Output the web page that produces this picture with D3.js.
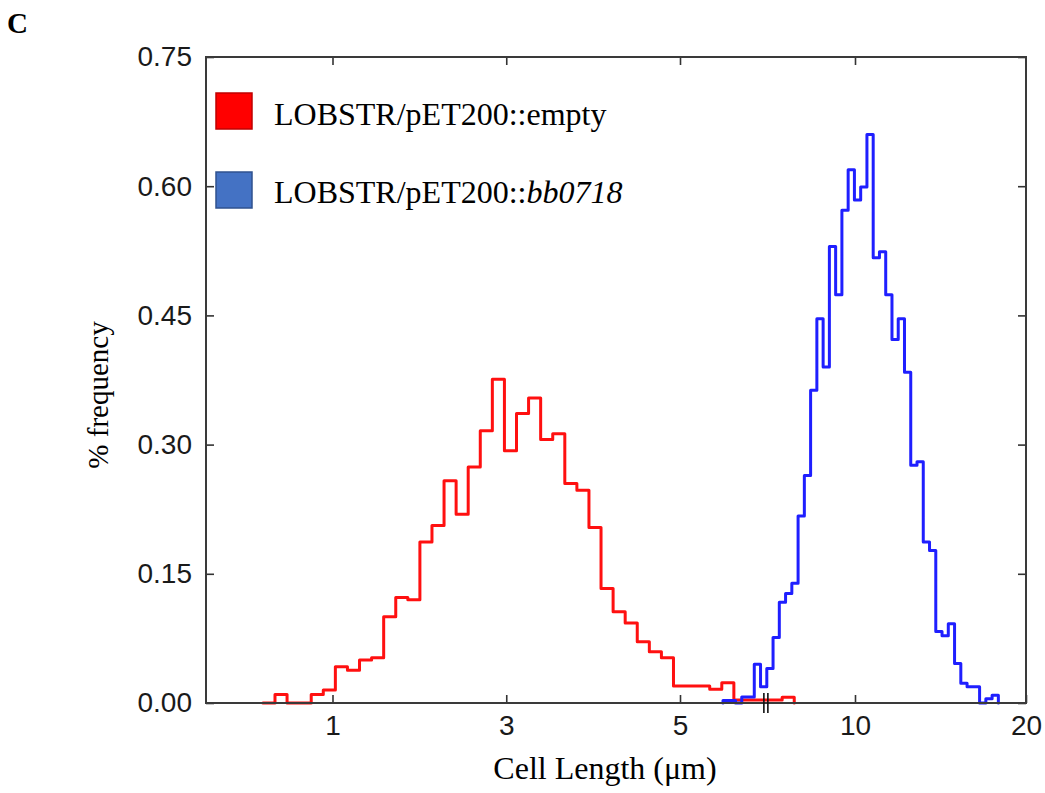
<!DOCTYPE html>
<html>
<head>
<meta charset="utf-8">
<script src="https://cdn.jsdelivr.net/npm/d3@7"></script>
<style>
  body { margin: 0; background: #fff; }
  svg { display: block; }
</style>
</head>
<body>
<div id="chart-area"></div>
<script>
// histogram data (% frequency per bin)
var redLabel = 'LOBSTR/pET200::empty';
var blueLabel = 'LOBSTR/pET200::';
var blueLabelItalic = 'bb0718';

// red: short-axis units (left segment), bins start at redStart, width redWidth
var redStart = 0.199, redWidth = 0.139;
var redFreq = [0, 0.010, 0, 0, 0.010, 0.015, 0.042, 0.038, 0.050, 0.0525,
  0.100, 0.1225, 0.120, 0.187, 0.206, 0.258, 0.219, 0.274, 0.316, 0.376,
  0.293, 0.336, 0.354, 0.306, 0.3125, 0.2547, 0.247, 0.2037, 0.133, 0.106,
  0.093, 0.071, 0.0595, 0.0525, 0.0197, 0.0197, 0.0197, 0.016, 0.0235, 0.0035,
  0.0035, 0.0035, 0.0035, 0.0066];

// blue: long-axis units (right segment)
var blueStart = 2.28, blueWidth = 0.366;
var blueFreq = [0.003, 0.003, 0, 0.007, 0.007, 0.045, 0.019, 0.040, 0.076, 0.117,
  0.127, 0.139, 0.217, 0.264, 0.363, 0.446, 0.390, 0.530, 0.474, 0.572,
  0.619, 0.584, 0.599, 0.660, 0.517, 0.524, 0.474, 0.422, 0.446, 0.384,
  0.276, 0.280, 0.187, 0.177, 0.083, 0.078, 0.092, 0.046, 0.023, 0.019,
  0.019, 0, 0.005, 0.009];

var yTicks = [0, 0.15, 0.30, 0.45, 0.60, 0.75];
var xTicksLeft = [1, 3, 5];
var xTicksRight = [10, 20];
var axisBreak = 6;

var W = 1045, H = 793;
var margin = { left: 206, right: 1026, top: 57, bottom: 703 };

var svg = d3.select('#chart-area').append('svg')
    .attr('width', W)
    .attr('height', H);

// scales
var y = d3.scaleLinear().domain([0, 0.75]).range([margin.bottom, margin.top]);
var xL = d3.scaleLinear().domain([1, 5]).range([332.5, 680]);
var xR = d3.scaleLinear().domain([10, 20]).range([855, 1026]);

// step line builder
function stepPoints(start, width, freq) {
  var pts = [[start, 0]];
  freq.forEach(function(v, i) { pts.push([start + i * width, v]); });
  pts.push([start + freq.length * width, freq[freq.length - 1]]);
  pts.push([start + freq.length * width, 0]);
  return pts;
}

function drawStep(xs, pts, color) {
  var line = d3.line()
    .x(function(d) { return xs(d[0]); })
    .y(function(d) { return y(d[1]); })
    .curve(d3.curveStepAfter);
  svg.append('path')
    .datum(pts)
    .attr('d', line)
    .attr('fill', 'none')
    .attr('stroke', color)
    .attr('stroke-width', 3)
    .attr('stroke-linejoin', 'round')
    .attr('stroke-linecap', 'round');
}

var tickFont = '"Liberation Sans", Arial, sans-serif';
var serif = '"Liberation Serif", "Times New Roman", serif';

function styleAxis(g) {
  g.select('.domain').remove();
  g.selectAll('.tick line').attr('stroke', '#333').attr('stroke-width', 1.6);
  g.selectAll('.tick text')
    .attr('fill', '#1a1a1a')
    .style('font-family', tickFont)
    .style('font-size', '28px');
}

// left axis
svg.append('g')
  .attr('transform', 'translate(' + margin.left + ',0)')
  .call(d3.axisLeft(y).tickValues(yTicks).tickFormat(d3.format('.2f'))
    .tickSizeInner(-8).tickSizeOuter(0).tickPadding(14))
  .call(styleAxis);

// right ticks
svg.append('g')
  .attr('transform', 'translate(' + margin.right + ',0)')
  .call(d3.axisRight(y).tickValues(yTicks).tickFormat('')
    .tickSizeInner(-8).tickSizeOuter(0))
  .call(styleAxis);

// bottom axes (two segments)
svg.append('g')
  .attr('transform', 'translate(0,' + margin.bottom + ')')
  .call(d3.axisBottom(xL).tickValues(xTicksLeft).tickFormat(d3.format('d'))
    .tickSizeInner(-8).tickSizeOuter(0).tickPadding(12))
  .call(styleAxis);
svg.append('g')
  .attr('transform', 'translate(0,' + margin.bottom + ')')
  .call(d3.axisBottom(xR).tickValues(xTicksRight).tickFormat(d3.format('d'))
    .tickSizeInner(-8).tickSizeOuter(0).tickPadding(12))
  .call(styleAxis);

// top ticks
svg.append('g')
  .attr('transform', 'translate(0,' + margin.top + ')')
  .call(d3.axisTop(xL).tickValues(xTicksLeft).tickFormat('')
    .tickSizeInner(-8).tickSizeOuter(0))
  .call(styleAxis);
svg.append('g')
  .attr('transform', 'translate(0,' + margin.top + ')')
  .call(d3.axisTop(xR).tickValues([10]).tickFormat('')
    .tickSizeInner(-8).tickSizeOuter(0))
  .call(styleAxis);

// data
drawStep(xL, stepPoints(redStart, redWidth, redFreq), '#ff1010');
drawStep(xR, stepPoints(blueStart, blueWidth, blueFreq), '#1f1fff');

// frame
svg.append('rect')
  .attr('x', margin.left).attr('y', margin.top)
  .attr('width', margin.right - margin.left).attr('height', margin.bottom - margin.top)
  .attr('fill', 'none')
  .attr('stroke', '#3a3a3a')
  .attr('stroke-width', 2);

// axis break marker
[-2, 2].forEach(function(o) {
  svg.append('line')
    .attr('x1', xL(axisBreak) + o - 1).attr('x2', xL(axisBreak) + o - 1)
    .attr('y1', margin.bottom - 10).attr('y2', margin.bottom + 10)
    .attr('stroke', '#111').attr('stroke-width', 1.6);
});

// legend
var legend = [
  { fill: '#ff0000', stroke: '#c00000', y: 93 },
  { fill: '#4472c4', stroke: '#2f528f', y: 172 }
];
legend.forEach(function(d) {
  svg.append('rect')
    .attr('x', 216).attr('y', d.y)
    .attr('width', 36).attr('height', 36)
    .attr('fill', d.fill)
    .attr('stroke', d.stroke)
    .attr('stroke-width', 1.5);
});
svg.append('text')
  .attr('x', 274).attr('y', 125)
  .style('font-family', serif).style('font-size', '32px')
  .attr('fill', '#000')
  .text(redLabel);
var t2 = svg.append('text')
  .attr('x', 274).attr('y', 203)
  .style('font-family', serif).style('font-size', '32px')
  .attr('fill', '#000');
t2.append('tspan').text(blueLabel);
t2.append('tspan').style('font-style', 'italic').text(blueLabelItalic);

// axis titles
svg.append('text')
  .attr('x', 605).attr('y', 779)
  .attr('text-anchor', 'middle')
  .style('font-family', serif).style('font-size', '32px')
  .attr('fill', '#000')
  .text('Cell Length (\u03bcm)');

svg.append('text')
  .attr('transform', 'translate(108,395) rotate(-90)')
  .attr('text-anchor', 'middle')
  .style('font-family', serif).style('font-size', '29px')
  .attr('fill', '#000')
  .text('% frequency');

// panel letter
svg.append('text')
  .attr('x', 7).attr('y', 33)
  .style('font-family', serif).style('font-size', '29px')
  .style('font-weight', 'bold')
  .attr('fill', '#000')
  .text('C');
</script>
</body>
</html>
